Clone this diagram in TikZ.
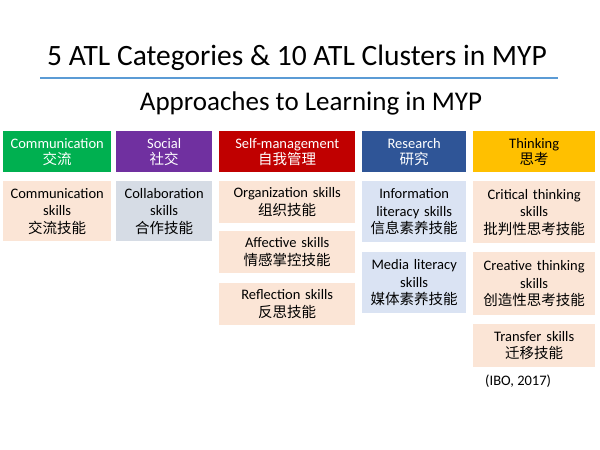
\documentclass[tikz,border=0pt]{standalone}
\usepackage{fontspec}
\setmainfont{Carlito}
\newfontfamily\cjk{Noto Sans CJK SC}
\definecolor{cgreen}{HTML}{00B050}
\definecolor{cpurple}{HTML}{7030A0}
\definecolor{cred}{HTML}{C00000}
\definecolor{cblue}{HTML}{2F5597}
\definecolor{cgold}{HTML}{FFC000}
\definecolor{peach}{HTML}{FBE5D6}
\definecolor{grayb}{HTML}{D6DCE5}
\definecolor{lblue}{HTML}{DAE3F3}
\definecolor{linec}{HTML}{5B9BD5}
\tikzset{
  hdr/.style={anchor=north west,inner sep=0pt,align=center,text=white,font=\fontsize{14.5}{16}\selectfont},
  sk/.style={anchor=north west,inner sep=0pt,align=center,text=black,font=\fontsize{14.5}{17.5}\selectfont},
}
\newcommand{\bx}[7]{% name x y w h color text
  \node[sk,fill=#6,minimum width=#4pt,minimum height=#5pt,text width=#4pt] (#1) at (#2pt,-#3pt) {#7};}
\newcommand{\hx}[7]{%
  \node[hdr,fill=#6,minimum width=#4pt,minimum height=#5pt,text width=#4pt] (#1) at (#2pt,-#3pt) {#7};}
\begin{document}
\begin{tikzpicture}[x=1pt,y=1pt]
\useasboundingbox (0,0) rectangle (600,-450);
\node[anchor=west,inner sep=0pt,font=\fontsize{29.5}{32}\selectfont] (t) at (47,-58) {5 ATL Categories \& 10 ATL Clusters in MYP};
\coordinate (l1) at (40,-78); \coordinate (l2) at (558,-78);
\draw[linec,line width=1.2pt] (l1) -- (l2);
\node[font=\fontsize{27}{30}\selectfont,inner sep=0pt] (st) at (311,-103) {Approaches to Learning in MYP};
\hx{h1}{3}{131}{108}{41}{cgreen}{Communication\\{\cjk 交流}}
\hx{h2}{116}{131}{96}{41}{cpurple}{Social\\{\cjk 社交}}
\hx{h3}{219}{131}{136}{41}{cred}{Self-management\\{\cjk 自我管理}}
\hx{h4}{362}{131}{104}{41}{cblue}{Research\\{\cjk 研究}}
\node[hdr,text=black,fill=cgold,minimum width=122pt,minimum height=41pt,text width=122pt] (h5) at (473pt,-131pt) {Thinking\\{\cjk 思考}};
\bx{a1}{3}{181}{108}{60}{peach}{Communication\\skills\\{\cjk 交流技能}}
\bx{b1}{116}{181}{96}{60}{grayb}{Collaboration\\skills\\{\cjk 合作技能}}
\bx{c1}{219}{181}{136}{42}{peach}{Organization skills\\{\cjk 组织技能}}
\bx{c2}{219}{231}{136}{42}{peach}{Affective skills\\{\cjk 情感掌控技能}}
\bx{c3}{219}{283}{136}{42}{peach}{Reflection skills\\{\cjk 反思技能}}
\bx{d1}{362}{181}{104}{61}{lblue}{Information\\literacy skills\\{\cjk 信息素养技能}}
\bx{d2}{362}{252}{104}{61}{lblue}{Media literacy\\skills\\{\cjk 媒体素养技能}}
\bx{e1}{473}{181}{122}{62}{peach}{Critical thinking\\skills\\{\cjk 批判性思考技能}}
\bx{e2}{473}{252}{122}{63}{peach}{Creative thinking\\skills\\{\cjk 创造性思考技能}}
\bx{e3}{473}{324}{122}{43}{peach}{Transfer skills\\{\cjk 迁移技能}}
\node[anchor=west,inner sep=0pt,font=\fontsize{14.5}{16}\selectfont] (ref) at (485,-381) {(IBO, 2017)};
\end{tikzpicture}
\end{document}
